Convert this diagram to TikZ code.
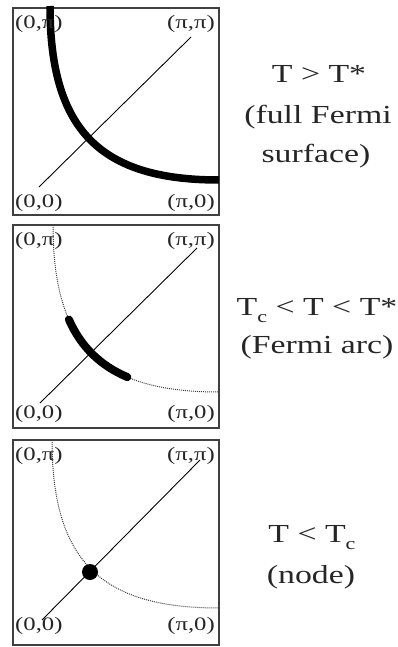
\documentclass[tikz,border=0pt]{standalone}
\usepackage{fontspec}
\setmainfont{Liberation Serif}
\usetikzlibrary{positioning}
\newcommand{\wide}[1]{\scalebox{1.3}[1]{#1}}
\newcommand{\lowc}{\raisebox{-7pt}{\fontsize{17}{17}\selectfont c}}
\tikzset{
  keret/.style={draw=black!75,line width=1.3pt},
  atlo/.style={line width=0.9pt},
  fs/.style={line width=7.5pt},
  fsdot/.style={densely dotted,line width=1pt,black!75},
  pont/.style={circle,fill,inner sep=0pt,minimum size=16pt},
  sarok/.style={inner sep=0pt,text=black!85,font=\fontsize{19}{19}\selectfont},
  szoveg/.style={anchor=base,inner sep=0pt,text=black!85,font=\fontsize{26}{26}\selectfont},
}

\begin{document}
\begin{tikzpicture}[x=1pt,y=1pt]
  \useasboundingbox (0,0) rectangle (398,-647);
  % T > T*
  \begin{scope}[shift={(13,-8)}]
    \draw[keret] (0,0) rectangle (206,-207);
    \draw[atlo] (26,-179) -- (178,-29);
    \draw[fs] (37,2) .. controls (37,-122) and (87,-172) .. (206,-172);
    \node[sarok,anchor=base west] (a0p) at (2,-21) {\wide{(0,π)}};
    \node[sarok,anchor=base east] (app) at (202,-21) {\wide{(π,π)}};
    \node[sarok,anchor=base west] (a00) at (2,-199) {\wide{(0,0)}};
    \node[sarok,anchor=base east] (ap0) at (202,-199) {\wide{(π,0)}};
  \end{scope}
  % Tc < T < T*
  \begin{scope}[shift={(13,-225)}]
    \draw[keret] (0,0) rectangle (206,-203);
    \draw[atlo] (27,-178) -- (184,-23);
    \draw[fsdot] (40,0) .. controls (40,-122) and (90,-167) .. (206,-167);
    \draw[line width=8pt,line cap=round] (55.9,-94.5) .. controls (68,-121.9) and (87.3,-140.6) .. (114.4,-152.1);
    \node[sarok,anchor=base west] (b0p) at (2,-20) {\wide{(0,π)}};
    \node[sarok,anchor=base east] (bpp) at (202,-20) {\wide{(π,π)}};
    \node[sarok,anchor=base west] (b00) at (2,-193) {\wide{(0,0)}};
    \node[sarok,anchor=base east] (bp0) at (202,-193) {\wide{(π,0)}};
  \end{scope}
  % T < Tc
  \begin{scope}[shift={(13,-440)}]
    \draw[keret] (0,0) rectangle (206,-205);
    \draw[atlo] (29,-180) -- (187,-20);
    \draw[fsdot] (39,0) .. controls (39,-122) and (89,-168) .. (206,-168);
    \node[pont] (node) at (77,-132) {};
    \node[sarok,anchor=base west] (c0p) at (2,-20) {\wide{(0,π)}};
    \node[sarok,anchor=base east] (cpp) at (202,-20) {\wide{(π,π)}};
    \node[sarok,anchor=base west] (c00) at (2,-190) {\wide{(0,0)}};
    \node[sarok,anchor=base east] (cp0) at (202,-190) {\wide{(π,0)}};
  \end{scope}
  \node[szoveg] (t1a) at (319,-83) {\wide{T > T*}};
  \node[szoveg] (t1b) at (318,-124) {\wide{(full Fermi}};
  \node[szoveg] (t1c) at (316,-163) {\wide{surface)}};
  \node[szoveg] (t2a) at (317,-315) {\wide{T\lowc{} < T < T*}};
  \node[szoveg] (t2b) at (317,-353) {\wide{(Fermi arc)}};
  \node[szoveg] (t3a) at (312,-542) {\wide{T < T\lowc}};
  \node[szoveg] (t3b) at (311,-583) {\wide{(node)}};
\end{tikzpicture}
\end{document}
